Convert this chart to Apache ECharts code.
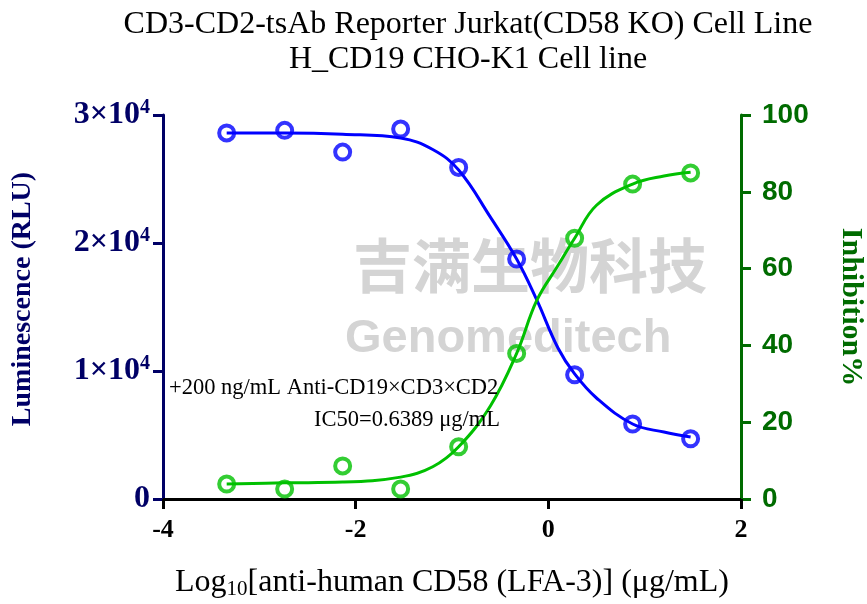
<!DOCTYPE html>
<html>
<head>
<meta charset="utf-8">
<script src="https://cdn.jsdelivr.net/npm/echarts@6/dist/echarts.min.js"></script>
<style>
html,body{margin:0;padding:0;background:#fff;}
#c{width:867px;height:604px;}
</style>
</head>
<body>
<div id="c"></div>
<script>
// log10 concentration (µg/mL), 4-fold dilution series
const logConc = [-3.339, -2.737, -2.135, -1.533, -0.931, -0.329, 0.273, 0.875, 1.477];
// Luminescence (RLU)
const lumValues = [28600, 28800, 27100, 28900, 25900, 18750, 9700, 5860, 4700];
// Inhibition %
const inhValues = [3.9, 2.6, 8.6, 2.6, 13.6, 37.9, 67.9, 82.0, 84.9];
// fitted curves
const curveX = [-3.339, -2.737, -2.135, -1.533, -1.2, -0.931, -0.6, -0.329, -0.12, 0.1, 0.273, 0.5, 0.875, 1.2, 1.477];
const lumCurve = [28600, 28600, 28500, 28200, 27300, 25700, 22000, 18750, 15550, 11800, 9770, 7890, 5860, 5230, 4840];
const inhCurve = [3.9, 4.2, 4.4, 5.7, 8.4, 13.6, 24.3, 37.9, 51.7, 60.8, 67.9, 76.5, 82.0, 84.1, 85.1];
const xTicks = [-4, -2, 0, 2];
const leftTicks = [0, 10000, 20000, 30000];
const rightTicks = [0, 20, 40, 60, 80, 100];

const navy = '#000066';
const green = '#006b00';
const blue = '#0000ff';
const lgreen = '#00c000';
const serif = '"Liberation Serif","DejaVu Serif",serif';
const sans = '"Liberation Sans",Arial,sans-serif';

const chart = echarts.init(document.getElementById('c'));
const zip = (a, b) => a.map((v, i) => [v, b[i]]);

chart.setOption({
  animation: false,
  title: {
    text: 'CD3-CD2-tsAb Reporter Jurkat(CD58 KO) Cell Line\nH_CD19 CHO-K1 Cell line',
    left: 463, top: 2, textAlign: 'center',
    textStyle: { fontFamily: serif, fontWeight: 'normal', fontSize: 32, lineHeight: 35, color: '#000' }
  },
  grid: { left: 163, right: 126, top: 115, bottom: 105, containLabel: false, outerBoundsMode: 'none' },
  xAxis: {
    type: 'value', min: -4, max: 2, interval: 2,
    axisLine: { show: true, onZero: false, lineStyle: { color: '#000', width: 3 } },
    axisTick: { show: true, length: 10, lineStyle: { color: '#000', width: 3 } },
    splitLine: { show: false },
    axisLabel: { fontFamily: serif, fontWeight: 'bold', fontSize: 26, color: '#000', margin: 18 },
    name: '{n|Log}{s|10}{n|[anti-human CD58 (LFA-3)] (μg/mL)}',
    nameLocation: 'middle', nameGap: 66,
    nameTextStyle: {
      rich: {
        n: { fontFamily: serif, fontSize: 32, color: '#000' },
        s: { fontFamily: serif, fontSize: 21, color: '#000', verticalAlign: 'bottom', padding: [14, 0, 0, 0] }
      }
    }
  },
  yAxis: [{
    type: 'value', min: 0, max: 30000, interval: 10000, position: 'left',
    axisLine: { show: true, onZero: false, lineStyle: { color: navy, width: 3 } },
    axisTick: { show: true, length: 10, lineStyle: { color: navy, width: 3 } },
    splitLine: { show: false },
    axisLabel: {
      margin: 13,
      formatter: v => v === 0 ? '{b|0}' : '{b|' + (v / 10000) + '×10}{p|4}',
      rich: {
        b: { fontFamily: serif, fontWeight: 'bold', fontSize: 32, color: navy },
        p: { fontFamily: serif, fontWeight: 'bold', fontSize: 20, color: navy, verticalAlign: 'top', padding: [0, 0, 14, 0] }
      }
    },
    name: 'Luminescence (RLU)', nameLocation: 'middle', nameGap: 126, nameRotate: 90,
    nameTextStyle: { fontFamily: serif, fontWeight: 'bold', fontSize: 28, color: navy, padding: [0, 0, 0, 16] }
  }, {
    type: 'value', min: 0, max: 100, interval: 20, position: 'right',
    axisLine: { show: true, onZero: false, lineStyle: { color: green, width: 3 } },
    axisTick: { show: true, length: 10, lineStyle: { color: green, width: 3 } },
    splitLine: { show: false },
    axisLabel: { fontFamily: sans, fontWeight: 'bold', fontSize: 28, color: green, margin: 21 },
    name: 'Inhibition%', nameLocation: 'middle', nameGap: 95, nameRotate: -90,
    nameTextStyle: { fontFamily: serif, fontWeight: 'bold', fontSize: 30, color: green }
  }],
  graphic: [
    { type: 'text', z: -1, left: 353, top: 236, style: { text: '吉满生物科技', font: 'bold 59px "Noto Sans CJK SC"', fill: '#d4d4d4' } },
    { type: 'text', z: -1, left: 345, top: 316, style: { text: 'Genomeditech', font: 'bold 47px "Liberation Sans"', fill: '#d4d4d4' } },
    { type: 'text', z: 10, left: 169, top: 377, style: { text: '+200 ng/mL Anti-CD19×CD3×CD2', font: '22.5px "Liberation Serif"', fill: '#000' } },
    { type: 'text', z: 10, right: 367, top: 409, style: { text: 'IC50=0.6389 μg/mL', font: '22.5px "Liberation Serif"', fill: '#000' } }
  ],
  series: [
    { type: 'line', data: zip(curveX, lumCurve), smooth: 0.4, showSymbol: false, symbol: 'none',
      lineStyle: { color: blue, width: 3 }, yAxisIndex: 0, z: 3 },
    { type: 'line', data: zip(curveX, inhCurve), smooth: 0.4, showSymbol: false, symbol: 'none',
      lineStyle: { color: lgreen, width: 3 }, yAxisIndex: 1, z: 3 },
    { type: 'scatter', data: zip(logConc, lumValues), symbol: 'circle', symbolSize: 15,
      itemStyle: { color: 'rgba(255,255,255,0)', borderColor: blue, borderWidth: 4 }, yAxisIndex: 0, z: 4 },
    { type: 'scatter', data: zip(logConc, inhValues), symbol: 'circle', symbolSize: 15,
      itemStyle: { color: 'rgba(255,255,255,0)', borderColor: lgreen, borderWidth: 4 }, yAxisIndex: 1, z: 4 }
  ]
});
</script>
</body>
</html>
